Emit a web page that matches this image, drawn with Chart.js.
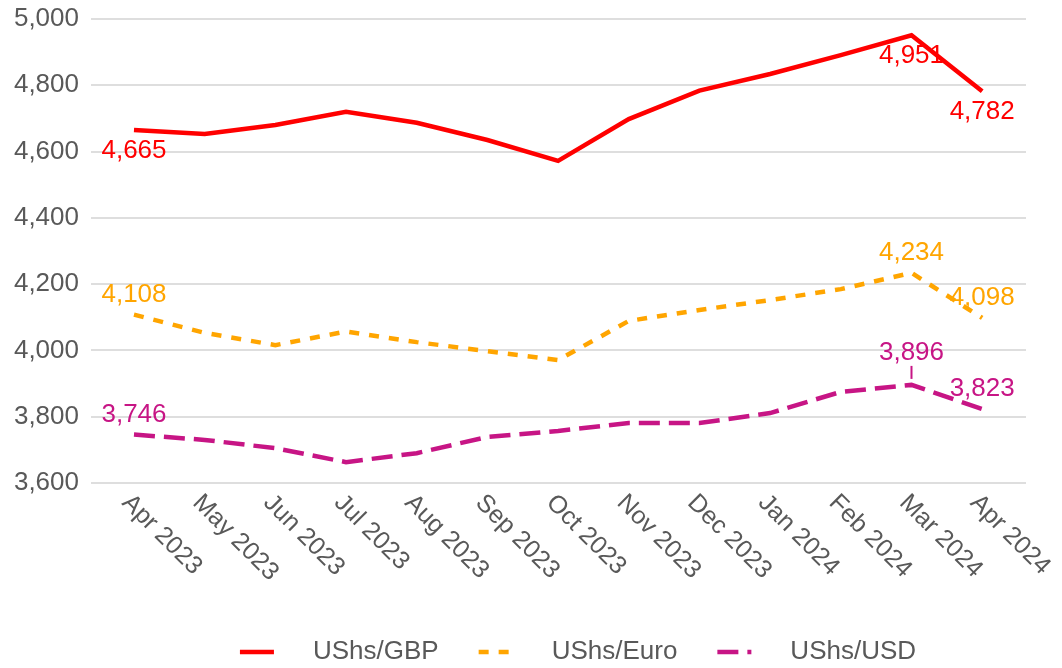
<!DOCTYPE html>
<html>
<head>
<meta charset="utf-8">
<script src="https://cdn.jsdelivr.net/npm/chart.js@4.4.1/dist/chart.umd.min.js"></script>
<style>
html, body { margin: 0; padding: 0; background: #fff; }
#wrap { width: 1062px; height: 668px; position: relative; }
</style>
</head>
<body>
<div id="wrap"><canvas id="myChart"></canvas></div>
<script>
const months = ['Apr 2023', 'May 2023', 'Jun 2023', 'Jul 2023', 'Aug 2023', 'Sep 2023', 'Oct 2023',
    'Nov 2023', 'Dec 2023', 'Jan 2024', 'Feb 2024', 'Mar 2024', 'Apr 2024'];
const gbp = [4665, 4653, 4680, 4720, 4687, 4635, 4572, 4698, 4784, 4834, 4891, 4951, 4782];
const euro = [4108, 4053, 4016, 4057, 4025, 3998, 3971, 4089, 4122, 4152, 4185, 4234, 4098];
const usd = [3746, 3730, 3705, 3663, 3690, 3739, 3757, 3781, 3781, 3811, 3875, 3896, 3823];
const seriesNames = ['UShs/GBP', 'UShs/Euro', 'UShs/USD'];
const labelledPoints = [0, 11, 12];

const FONT = '"Liberation Sans", Arial, sans-serif';
const GREY = '#595959';
const FS = 26;

// vertical offset of each value label from its point (per series, per labelled point)
const labelDy = [[21, 21, 21], [-20, -20, -20], [-20, -32, -20]];

const ctx = document.getElementById('myChart').getContext('2d');

function toPoints(arr) {
    return arr.map((v, i) => ({ x: i, y: v }));
}

const extras = {
    id: 'extras',
    afterDraw(chart) {
        const c = chart.ctx;
        const xs = chart.scales.x;
        const area = chart.chartArea;

        // rotated month labels
        c.save();
        c.font = '25px ' + FONT;
        c.fillStyle = GREY;
        c.textAlign = 'left';
        c.textBaseline = 'middle';
        months.forEach((m, i) => {
            const x = xs.getPixelForValue(i);
            c.save();
            c.translate(x - 8, area.bottom + 16);
            c.rotate(Math.PI / 4);
            c.fillText(m, 0, 0);
            c.restore();
        });
        c.restore();

        // value labels
        c.save();
        c.font = FS + 'px ' + FONT;
        c.textAlign = 'center';
        c.textBaseline = 'middle';
        chart.data.datasets.forEach((ds, d) => {
            const meta = chart.getDatasetMeta(d);
            labelledPoints.forEach((idx, k) => {
                const pt = meta.data[idx];
                const dy = labelDy[d][k];
                c.fillStyle = ds.borderColor;
                c.fillText(ds.data[idx].y.toLocaleString('en-US'), pt.x, pt.y + dy);
                if (Math.abs(dy) > 25) {
                    c.strokeStyle = ds.borderColor;
                    c.lineWidth = 2;
                    c.beginPath();
                    c.moveTo(pt.x, pt.y + dy + 13);
                    c.lineTo(pt.x, pt.y - 6);
                    c.stroke();
                }
            });
        });
        c.restore();

        // legend
        c.save();
        c.font = FS + 'px ' + FONT;
        c.textBaseline = 'middle';
        c.textAlign = 'left';
        const sw = 34, gapText = 39, gapItem = 40;
        const widths = chart.data.datasets.map(ds => c.measureText(ds.label).width);
        let total = 0;
        widths.forEach((w, i) => { total += sw + gapText + w + (i < widths.length - 1 ? gapItem : 0); });
        let x = 578 - total / 2;
        const y = 652;
        chart.data.datasets.forEach((ds, i) => {
            c.strokeStyle = ds.borderColor;
            c.lineWidth = ds.borderWidth;
            c.lineCap = 'butt';
            c.setLineDash(ds.borderDash || []);
            c.beginPath();
            c.moveTo(x, y);
            c.lineTo(x + sw, y);
            c.stroke();
            c.setLineDash([]);
            c.fillStyle = GREY;
            c.fillText(ds.label, x + sw + gapText, y);
            x += sw + gapText + widths[i] + gapItem;
        });
        c.restore();
    }
};

const config = {
    type: 'line',
    data: {
        datasets: [
            { label: seriesNames[0], data: toPoints(gbp), borderColor: '#FF0000', borderWidth: 4.5 },
            { label: seriesNames[1], data: toPoints(euro), borderColor: '#FFA500', borderWidth: 4.5, borderDash: [10, 10] },
            { label: seriesNames[2], data: toPoints(usd), borderColor: '#C71585', borderWidth: 4.5, borderDash: [21, 9] },
        ],
    },
    options: {
        responsive: true,
        maintainAspectRatio: false,
        animation: false,
        devicePixelRatio: 1,
        layout: { padding: { top: 19, right: 36, left: 0, bottom: 0 } },
        elements: {
            point: { radius: 0 },
            line: { tension: 0, borderCapStyle: 'butt', borderJoinStyle: 'miter', fill: false },
        },
        plugins: {
            legend: { display: false },
            tooltip: { enabled: false },
        },
        scales: {
            x: {
                type: 'linear',
                min: -0.608,
                max: 12.62,
                grid: { display: false },
                border: { display: false },
                ticks: { display: false },
                afterFit(scale) {
                    scale.height = 185;
                    scale.paddingLeft = 0;
                    scale.paddingRight = 0;
                },
            },
            y: {
                min: 3600,
                max: 5000,
                border: { display: false },
                grid: {
                    drawTicks: false,
                    color: (c) => (c.tick && c.tick.value % 200 === 0 ? '#dedede' : '#e8e8e8'),
                    lineWidth: (c) => (c.tick && c.tick.value % 200 === 0 ? 2 : 1.3),
                },
                ticks: {
                    stepSize: 100,
                    padding: 12,
                    color: GREY,
                    font: { family: FONT, size: FS },
                    callback: (v) => (v % 200 === 0 ? v.toLocaleString('en-US') : ''),
                },
                afterFit(scale) {
                    scale.width = 91;
                    scale.paddingTop = 0;
                    scale.paddingBottom = 0;
                },
            },
        },
    },
    plugins: [extras],
};

const chart = new Chart(ctx, config);
</script>
</body>
</html>
